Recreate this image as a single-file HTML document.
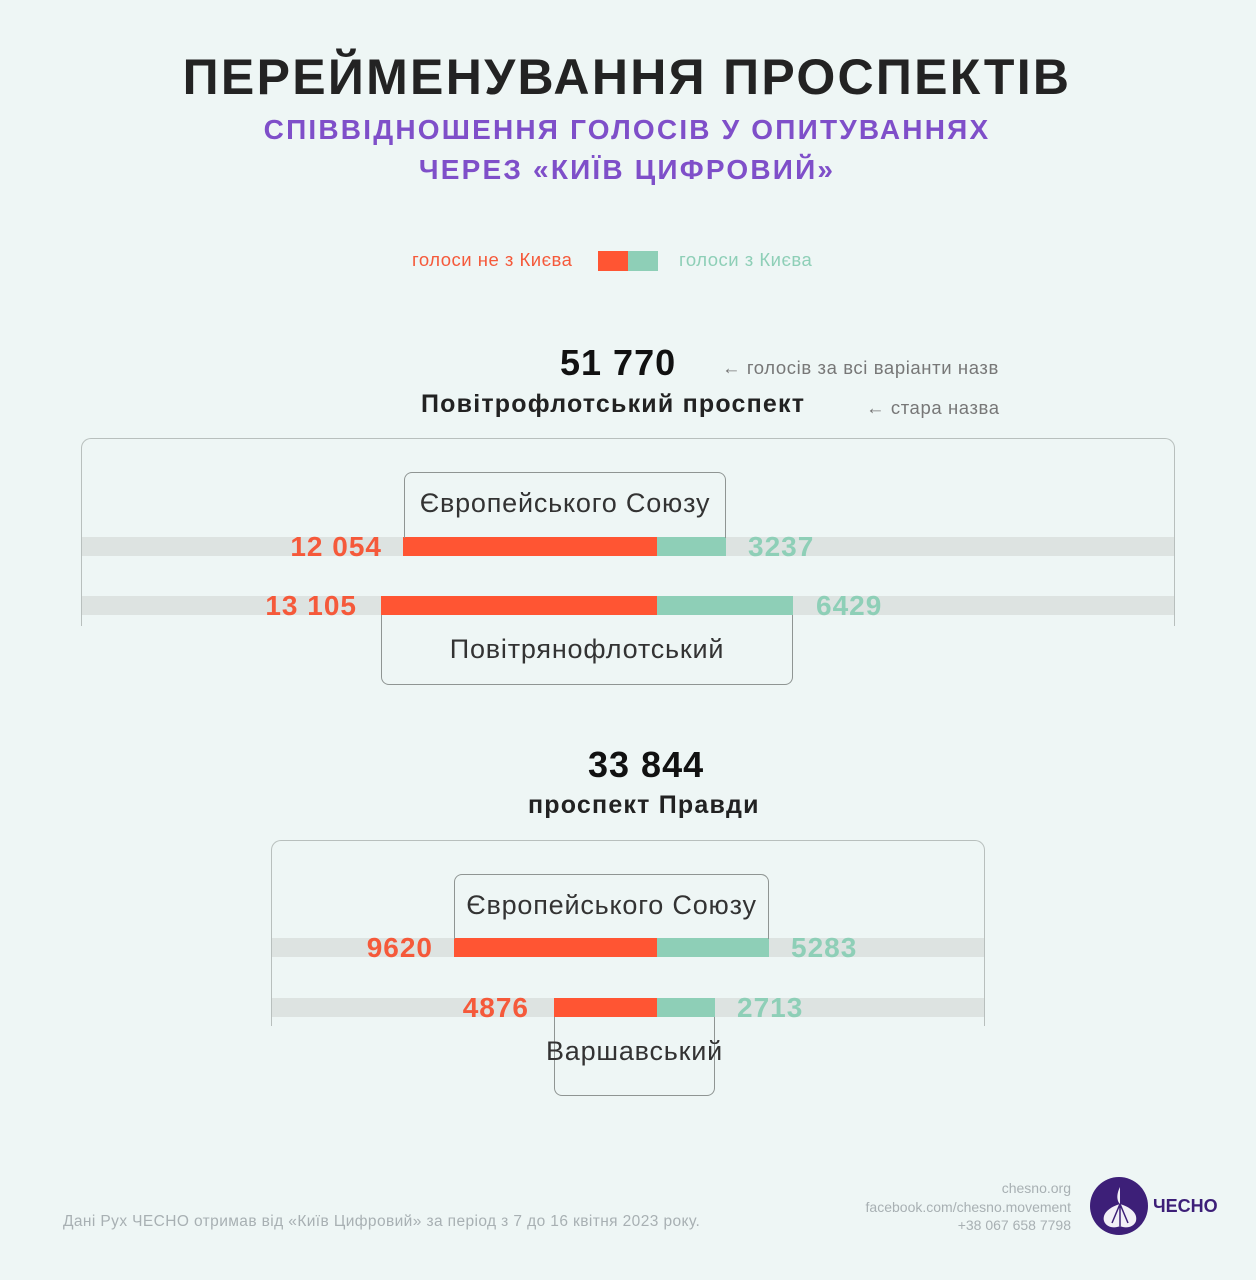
<!DOCTYPE html>
<html><head><meta charset="utf-8"><style>
body{margin:0;width:1256px;height:1280px;background:#eef6f5;position:relative;overflow:hidden;font-family:"Liberation Sans","DejaVu Sans",sans-serif}
.a{position:absolute;white-space:nowrap}
.c{transform:translateX(-50%)}
.trk{position:absolute;height:19px;background:#dde3e1}
.r{position:absolute;background:#ff5533}
.t{position:absolute;background:#8ecfb7}
.nr{position:absolute;color:#f5593a;font-weight:bold;font-size:28px;letter-spacing:1px;line-height:19px;transform:translateX(-100%)}
.nt{position:absolute;color:#8ecfb7;font-weight:bold;font-size:28px;letter-spacing:1px;line-height:19px}
.frame{position:absolute;border:1.5px solid #b8bfbd;border-bottom:none;border-radius:10px 10px 0 0}
.box{position:absolute;border:1.5px solid #8f9593;box-sizing:border-box;font-size:27px;letter-spacing:0.8px;color:#333;text-align:center;white-space:nowrap}
.lab{font-size:18.5px;color:#777;letter-spacing:0.6px}
</style></head><body>
<div class="a c" style="left:627px;top:48px;font-size:50px;font-weight:900;color:#232323;letter-spacing:2.3px">ПЕРЕЙМЕНУВАННЯ ПРОСПЕКТІВ</div>
<div class="a c" style="left:627px;top:114px;font-size:28px;font-weight:bold;color:#7f4fc9;letter-spacing:2.2px">СПІВВІДНОШЕННЯ ГОЛОСІВ У ОПИТУВАННЯХ</div>
<div class="a c" style="left:627px;top:154px;font-size:28px;font-weight:bold;color:#7f4fc9;letter-spacing:2.2px">ЧЕРЕЗ «КИЇВ ЦИФРОВИЙ»</div>

<div class="a" style="left:412px;top:249px;font-size:18.5px;letter-spacing:0.5px;color:#f5593a">голоси не з Києва</div>
<div class="r" style="left:598px;top:251px;width:30px;height:20px"></div>
<div class="t" style="left:628px;top:251px;width:30px;height:20px"></div>
<div class="a" style="left:679px;top:249px;font-size:18.5px;letter-spacing:0.5px;color:#8ecfb7">голоси з Києва</div>

<div class="a" style="left:560px;top:342px;font-size:36px;font-weight:900;color:#111;letter-spacing:1px">51 770</div>
<div class="a lab" style="left:722px;top:357px">← голосів за всі варіанти назв</div>
<div class="a" style="left:421px;top:390px;font-size:25px;font-weight:bold;color:#222;letter-spacing:1.2px">Повітрофлотський проспект</div>
<div class="a lab" style="left:866px;top:397px">← стара назва</div>

<div class="frame" style="left:81px;top:438px;width:1092px;height:187px"></div>
<div class="trk" style="left:82px;top:537px;width:1092px"></div>
<div class="r" style="left:403px;top:537px;width:254px;height:19px"></div>
<div class="t" style="left:657px;top:537px;width:69px;height:19px"></div>
<div class="box" style="left:404px;top:472px;width:322px;height:66px;border-bottom:none;border-radius:8px 8px 0 0;padding-top:15px">Європейського Союзу</div>
<div class="nr" style="left:382px;top:537px">12 054</div>
<div class="nt" style="left:748px;top:537px">3237</div>
<div class="trk" style="left:82px;top:596px;width:1092px"></div>
<div class="r" style="left:381px;top:596px;width:276px;height:19px"></div>
<div class="t" style="left:657px;top:596px;width:136px;height:19px"></div>
<div class="box" style="left:381px;top:615px;width:412px;height:70px;border-top:none;border-radius:0 0 8px 8px;padding-top:19px">Повітрянофлотський</div>
<div class="nr" style="left:357px;top:596px">13 105</div>
<div class="nt" style="left:816px;top:596px">6429</div>

<div class="a" style="left:588px;top:744px;font-size:36px;font-weight:900;color:#111;letter-spacing:1px">33 844</div>
<div class="a" style="left:528px;top:791px;font-size:25px;font-weight:bold;color:#222;letter-spacing:1.2px">проспект Правди</div>

<div class="frame" style="left:271px;top:840px;width:712px;height:185px"></div>
<div class="trk" style="left:272px;top:938px;width:712px"></div>
<div class="r" style="left:454px;top:938px;width:203px;height:19px"></div>
<div class="t" style="left:657px;top:938px;width:112px;height:19px"></div>
<div class="box" style="left:454px;top:874px;width:315px;height:65px;border-bottom:none;border-radius:8px 8px 0 0;padding-top:15px">Європейського Союзу</div>
<div class="nr" style="left:433px;top:938px">9620</div>
<div class="nt" style="left:791px;top:938px">5283</div>
<div class="trk" style="left:272px;top:998px;width:712px"></div>
<div class="r" style="left:554px;top:998px;width:103px;height:19px"></div>
<div class="t" style="left:657px;top:998px;width:58px;height:19px"></div>
<div class="box" style="left:554px;top:1017px;width:161px;height:79px;border-top:none;border-radius:0 0 8px 8px;overflow:visible"><span style="position:absolute;left:50%;transform:translateX(-50%);top:19px">Варшавський</span></div>
<div class="nr" style="left:529px;top:998px">4876</div>
<div class="nt" style="left:737px;top:998px">2713</div>

<div class="a" style="left:63px;top:1213px;font-size:15.5px;letter-spacing:0.4px;color:#a8b0b3">Дані Рух ЧЕСНО отримав від «Київ Цифровий» за період з 7 до 16 квітня 2023 року.</div>
<div class="a" style="right:185px;top:1179px;font-size:14px;color:#a8b0b3;text-align:right;line-height:18.5px">chesno.org<br>facebook.com/chesno.movement<br>+38 067 658 7798</div>
<svg class="a" style="left:1090px;top:1177px" width="60" height="60" viewBox="0 0 60 60">
<circle cx="29" cy="29" r="29" fill="#3d1f78"/>
<path d="M30 10 C26 18 27 24 30 27 C20 30 12 36 14 44 C16 50 24 52 30 49 C36 52 44 50 46 44 C48 36 40 30 30 27" fill="#f2f0f7"/>
<path d="M30 27 L22 46 M30 27 L30 49 M30 27 L38 46" stroke="#3d1f78" stroke-width="1.5" fill="none"/>
</svg>
<div class="a" style="left:1153px;top:1196px;font-size:18px;font-weight:900;color:#3d1f78">ЧЕСНО</div>
</body></html>
